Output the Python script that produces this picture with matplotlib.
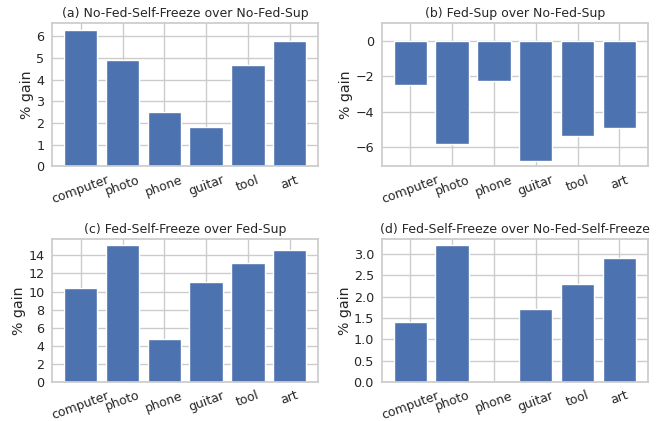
import matplotlib
matplotlib.use("Agg")
import matplotlib.pyplot as plt
import seaborn as sns

categories = ["computer", "photo", "phone", "guitar", "tool", "art"]

gain_a = [6.3, 4.9, 2.5, 1.8, 4.7, 5.8]
gain_b = [-2.5, -5.8, -2.3, -6.8, -5.4, -4.9]
gain_c = [10.4, 15.1, 4.7, 11.1, 13.2, 14.6]
gain_d = [1.4, 3.2, 0.0, 1.7, 2.3, 2.9]

titles = [
  "(a) No-Fed-Self-Freeze over No-Fed-Sup",
  "(b) Fed-Sup over No-Fed-Sup",
  "(c) Fed-Self-Freeze over Fed-Sup",
  "(d) Fed-Self-Freeze over No-Fed-Self-Freeze",
]

sns.set_theme(style="whitegrid")
plt.rcParams['font.family'] = ['DejaVu Sans']

fig, axes = plt.subplots(2, 2, figsize=(6.62, 4.21), dpi=100)
fig.subplots_adjust(left=0.0785, right=0.979, top=0.9454, bottom=0.0926,
                    wspace=0.237, hspace=0.503)

for ax, vals, title in zip(axes.flat, [gain_a, gain_b, gain_c, gain_d], titles):
  ax.bar(categories, vals, color="#4C72B0", width=0.8)
  ax.set_title(title, fontsize=9, pad=4)
  ax.set_ylabel("% gain", fontsize=10.2, labelpad=1.5)
  ax.tick_params(axis="x", labelsize=9, rotation=20, length=0, pad=5)
  ax.tick_params(axis="y", labelsize=9.2, length=0, pad=5.5)

axes[0, 0].set_yticks(range(0, 7))
axes[0, 1].set_ylim(-7.09, 1.0)
axes[0, 1].set_yticks([-6, -4, -2, 0])
axes[1, 0].set_yticks(range(0, 15, 2))
axes[1, 1].set_yticks([0.0, 0.5, 1.0, 1.5, 2.0, 2.5, 3.0])

fig.savefig("out.png", dpi=100)
